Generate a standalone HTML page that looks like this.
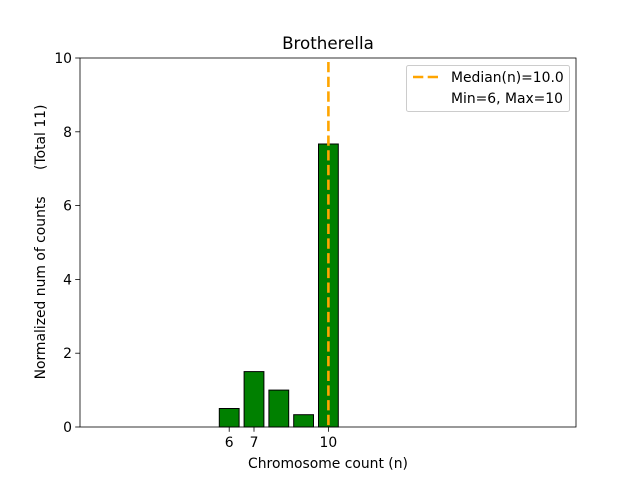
<!DOCTYPE html>
<html><head><style>body{margin:0;background:#fff}</style></head><body>
<svg width="640" height="480" xmlns="http://www.w3.org/2000/svg" font-family="DejaVu Sans, Liberation Sans, sans-serif">
<rect width="640" height="480" fill="#fff"/>
<g fill="#008000" stroke="#000" stroke-width="1">
<rect x="219.3" y="408.5" width="19.8" height="18.5"/>
<rect x="244.1" y="371.6" width="19.8" height="55.4"/>
<rect x="268.9" y="390.1" width="19.8" height="36.9"/>
<rect x="293.7" y="414.7" width="19.8" height="12.3"/>
<rect x="318.5" y="144" width="19.8" height="283"/>
</g>
<line x1="328.4" y1="62" x2="328.4" y2="427" stroke="#ffa500" stroke-width="2.6" stroke-dasharray="10.3,4.4"/>
<rect x="80" y="58" width="496" height="369" fill="none" stroke="#000" stroke-width="0.8"/>
<g stroke="#000" stroke-width="0.8">
<line x1="229.2" y1="427" x2="229.2" y2="431.8"/><line x1="254" y1="427" x2="254" y2="431.8"/><line x1="328.4" y1="427" x2="328.4" y2="431.8"/>
<line x1="75.2" y1="427" x2="80" y2="427"/><line x1="75.2" y1="353.2" x2="80" y2="353.2"/><line x1="75.2" y1="279.4" x2="80" y2="279.4"/><line x1="75.2" y1="205.6" x2="80" y2="205.6"/><line x1="75.2" y1="131.8" x2="80" y2="131.8"/><line x1="75.2" y1="58" x2="80" y2="58"/>
</g>
<g font-size="13.9" fill="#000" text-anchor="middle">
<text x="229.2" y="447">6</text><text x="254" y="447">7</text><text x="328.4" y="447">10</text>
</g>
<g font-size="13.9" fill="#000" text-anchor="end">
<text x="72" y="432">0</text><text x="72" y="358.2">2</text><text x="72" y="284.4">4</text><text x="72" y="210.6">6</text><text x="72" y="136.8">8</text><text x="72" y="63">10</text>
</g>
<text x="328" y="468" font-size="13.9" text-anchor="middle">Chromosome count (n)</text>
<text transform="translate(45,242) rotate(-90)" font-size="13.9" text-anchor="middle" xml:space="preserve">Normalized num of counts      (Total 11)</text>
<text x="328" y="49" font-size="16.7" text-anchor="middle">Brotherella</text>
<rect x="406.5" y="65.5" width="163" height="46" rx="2" fill="#fff" fill-opacity="0.8" stroke="#ccc"/>
<line x1="413" y1="77" x2="441" y2="77" stroke="#ffa500" stroke-width="2.6" stroke-dasharray="10.3,4.4"/>
<text x="451" y="82" font-size="13.9">Median(n)=10.0</text>
<text x="451" y="103" font-size="13.9">Min=6, Max=10</text>
</svg>
</body></html>
